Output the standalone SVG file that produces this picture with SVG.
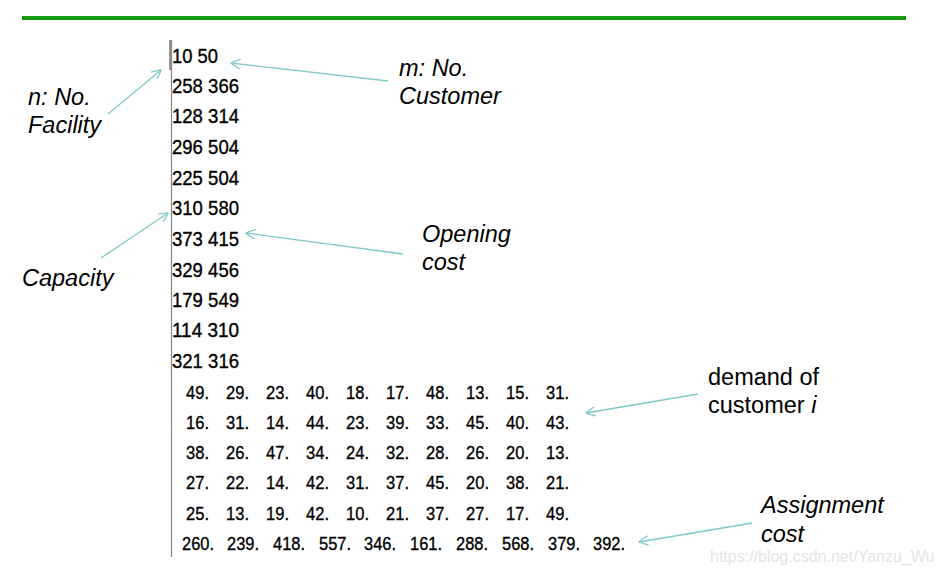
<svg xmlns="http://www.w3.org/2000/svg" width="941" height="575" viewBox="0 0 941 575">
<defs>
<marker id="ah" markerUnits="userSpaceOnUse" viewBox="0 0 10 10" refX="9.5" refY="5" markerWidth="10" markerHeight="10" orient="auto">
<path d="M0,0 L10,5 L0,10" fill="none" stroke="#80c8c8" stroke-width="1.3"/>
</marker>
</defs>
<style>
.num{font-family:"Liberation Sans",Arial,sans-serif;font-size:20px;fill:#000;stroke:#000;stroke-width:0.35}
.dem text{font-family:"Liberation Sans",Arial,sans-serif;font-size:18.5px;fill:#000;stroke:#000;stroke-width:0.35}
.lbl{font-family:"Liberation Sans",Arial,sans-serif;font-size:23.5px;font-style:italic;fill:#000}
.lbn{font-family:"Liberation Sans",Arial,sans-serif;font-size:23.5px;fill:#000}
.arr{fill:none;stroke:#80c8c8;stroke-width:1.3;marker-end:url(#ah)}
</style>
<rect width="941" height="575" fill="#fff"/>
<rect x="22" y="16" width="884" height="4" fill="#179c17"/>
<line x1="171.5" y1="40" x2="171.5" y2="557" stroke="#8a8a8a" stroke-width="1.3"/>
<line x1="170" y1="40" x2="170" y2="70" stroke="#333" stroke-width="1"/>

<g id="data">
<text class="num" x="172" y="63" textLength="46" lengthAdjust="spacingAndGlyphs">10 50</text>
<text class="num" x="172" y="93" textLength="67" lengthAdjust="spacingAndGlyphs">258 366</text>
<text class="num" x="172" y="123" textLength="67" lengthAdjust="spacingAndGlyphs">128 314</text>
<text class="num" x="172" y="154" textLength="67" lengthAdjust="spacingAndGlyphs">296 504</text>
<text class="num" x="172" y="185" textLength="67" lengthAdjust="spacingAndGlyphs">225 504</text>
<text class="num" x="172" y="215" textLength="67" lengthAdjust="spacingAndGlyphs">310 580</text>
<text class="num" x="172" y="246" textLength="67" lengthAdjust="spacingAndGlyphs">373 415</text>
<text class="num" x="172" y="277" textLength="67" lengthAdjust="spacingAndGlyphs">329 456</text>
<text class="num" x="172" y="307" textLength="67" lengthAdjust="spacingAndGlyphs">179 549</text>
<text class="num" x="172" y="337" textLength="67" lengthAdjust="spacingAndGlyphs">114 310</text>
<text class="num" x="172" y="368" textLength="67" lengthAdjust="spacingAndGlyphs">321 316</text>
</g>
<g id="demand" class="dem">
<text x="186" y="399" textLength="23" lengthAdjust="spacingAndGlyphs">49.</text><text x="226" y="399" textLength="23" lengthAdjust="spacingAndGlyphs">29.</text><text x="266" y="399" textLength="23" lengthAdjust="spacingAndGlyphs">23.</text><text x="306" y="399" textLength="23" lengthAdjust="spacingAndGlyphs">40.</text><text x="346" y="399" textLength="23" lengthAdjust="spacingAndGlyphs">18.</text><text x="386" y="399" textLength="23" lengthAdjust="spacingAndGlyphs">17.</text><text x="426" y="399" textLength="23" lengthAdjust="spacingAndGlyphs">48.</text><text x="466" y="399" textLength="23" lengthAdjust="spacingAndGlyphs">13.</text><text x="506" y="399" textLength="23" lengthAdjust="spacingAndGlyphs">15.</text><text x="546" y="399" textLength="23" lengthAdjust="spacingAndGlyphs">31.</text>
<text x="186" y="429" textLength="23" lengthAdjust="spacingAndGlyphs">16.</text><text x="226" y="429" textLength="23" lengthAdjust="spacingAndGlyphs">31.</text><text x="266" y="429" textLength="23" lengthAdjust="spacingAndGlyphs">14.</text><text x="306" y="429" textLength="23" lengthAdjust="spacingAndGlyphs">44.</text><text x="346" y="429" textLength="23" lengthAdjust="spacingAndGlyphs">23.</text><text x="386" y="429" textLength="23" lengthAdjust="spacingAndGlyphs">39.</text><text x="426" y="429" textLength="23" lengthAdjust="spacingAndGlyphs">33.</text><text x="466" y="429" textLength="23" lengthAdjust="spacingAndGlyphs">45.</text><text x="506" y="429" textLength="23" lengthAdjust="spacingAndGlyphs">40.</text><text x="546" y="429" textLength="23" lengthAdjust="spacingAndGlyphs">43.</text>
<text x="186" y="459" textLength="23" lengthAdjust="spacingAndGlyphs">38.</text><text x="226" y="459" textLength="23" lengthAdjust="spacingAndGlyphs">26.</text><text x="266" y="459" textLength="23" lengthAdjust="spacingAndGlyphs">47.</text><text x="306" y="459" textLength="23" lengthAdjust="spacingAndGlyphs">34.</text><text x="346" y="459" textLength="23" lengthAdjust="spacingAndGlyphs">24.</text><text x="386" y="459" textLength="23" lengthAdjust="spacingAndGlyphs">32.</text><text x="426" y="459" textLength="23" lengthAdjust="spacingAndGlyphs">28.</text><text x="466" y="459" textLength="23" lengthAdjust="spacingAndGlyphs">26.</text><text x="506" y="459" textLength="23" lengthAdjust="spacingAndGlyphs">20.</text><text x="546" y="459" textLength="23" lengthAdjust="spacingAndGlyphs">13.</text>
<text x="186" y="489" textLength="23" lengthAdjust="spacingAndGlyphs">27.</text><text x="226" y="489" textLength="23" lengthAdjust="spacingAndGlyphs">22.</text><text x="266" y="489" textLength="23" lengthAdjust="spacingAndGlyphs">14.</text><text x="306" y="489" textLength="23" lengthAdjust="spacingAndGlyphs">42.</text><text x="346" y="489" textLength="23" lengthAdjust="spacingAndGlyphs">31.</text><text x="386" y="489" textLength="23" lengthAdjust="spacingAndGlyphs">37.</text><text x="426" y="489" textLength="23" lengthAdjust="spacingAndGlyphs">45.</text><text x="466" y="489" textLength="23" lengthAdjust="spacingAndGlyphs">20.</text><text x="506" y="489" textLength="23" lengthAdjust="spacingAndGlyphs">38.</text><text x="546" y="489" textLength="23" lengthAdjust="spacingAndGlyphs">21.</text>
<text x="186" y="520" textLength="23" lengthAdjust="spacingAndGlyphs">25.</text><text x="226" y="520" textLength="23" lengthAdjust="spacingAndGlyphs">13.</text><text x="266" y="520" textLength="23" lengthAdjust="spacingAndGlyphs">19.</text><text x="306" y="520" textLength="23" lengthAdjust="spacingAndGlyphs">42.</text><text x="346" y="520" textLength="23" lengthAdjust="spacingAndGlyphs">10.</text><text x="386" y="520" textLength="23" lengthAdjust="spacingAndGlyphs">21.</text><text x="426" y="520" textLength="23" lengthAdjust="spacingAndGlyphs">37.</text><text x="466" y="520" textLength="23" lengthAdjust="spacingAndGlyphs">27.</text><text x="506" y="520" textLength="23" lengthAdjust="spacingAndGlyphs">17.</text><text x="546" y="520" textLength="23" lengthAdjust="spacingAndGlyphs">49.</text>
<text x="182" y="550" textLength="32" lengthAdjust="spacingAndGlyphs">260.</text><text x="227" y="550" textLength="32" lengthAdjust="spacingAndGlyphs">239.</text><text x="273" y="550" textLength="32" lengthAdjust="spacingAndGlyphs">418.</text><text x="319" y="550" textLength="32" lengthAdjust="spacingAndGlyphs">557.</text><text x="364" y="550" textLength="32" lengthAdjust="spacingAndGlyphs">346.</text><text x="410" y="550" textLength="32" lengthAdjust="spacingAndGlyphs">161.</text><text x="456" y="550" textLength="32" lengthAdjust="spacingAndGlyphs">288.</text><text x="502" y="550" textLength="32" lengthAdjust="spacingAndGlyphs">568.</text><text x="548" y="550" textLength="32" lengthAdjust="spacingAndGlyphs">379.</text><text x="593" y="550" textLength="32" lengthAdjust="spacingAndGlyphs">392.</text>
</g>

<g id="label-n"><text class="lbl" x="28" y="105">n: No.</text><text class="lbl" x="28" y="133">Facility</text></g>
<g id="label-m"><text class="lbl" x="399" y="76">m: No.</text><text class="lbl" x="399" y="104">Customer</text></g>
<g id="label-capacity"><text class="lbl" x="22" y="286">Capacity</text></g>
<g id="label-opening"><text class="lbl" x="422" y="242">Opening</text><text class="lbl" x="422" y="270">cost</text></g>
<g id="label-demand"><text class="lbn" x="708" y="385">demand of</text><text class="lbn" x="708" y="413">customer <tspan font-style="italic">i</tspan></text></g>
<g id="label-assignment"><text class="lbl" x="761" y="513">Assignment</text><text class="lbl" x="761" y="542">cost</text></g>

<g id="connectors">
<line class="arr" x1="108" y1="114" x2="161" y2="70"/>
<line class="arr" x1="388" y1="81" x2="231" y2="63"/>
<line class="arr" x1="101" y1="258" x2="168" y2="213"/>
<line class="arr" x1="403" y1="254" x2="246" y2="233"/>
<line class="arr" x1="698" y1="394" x2="586" y2="413"/>
<line class="arr" x1="752" y1="523" x2="639" y2="542"/>
</g>

<text x="710" y="562" font-family="Liberation Sans,Arial,sans-serif" font-size="16" fill="#e4e4e4">https://blog.csdn.net/Yanzu_Wu</text>
</svg>
